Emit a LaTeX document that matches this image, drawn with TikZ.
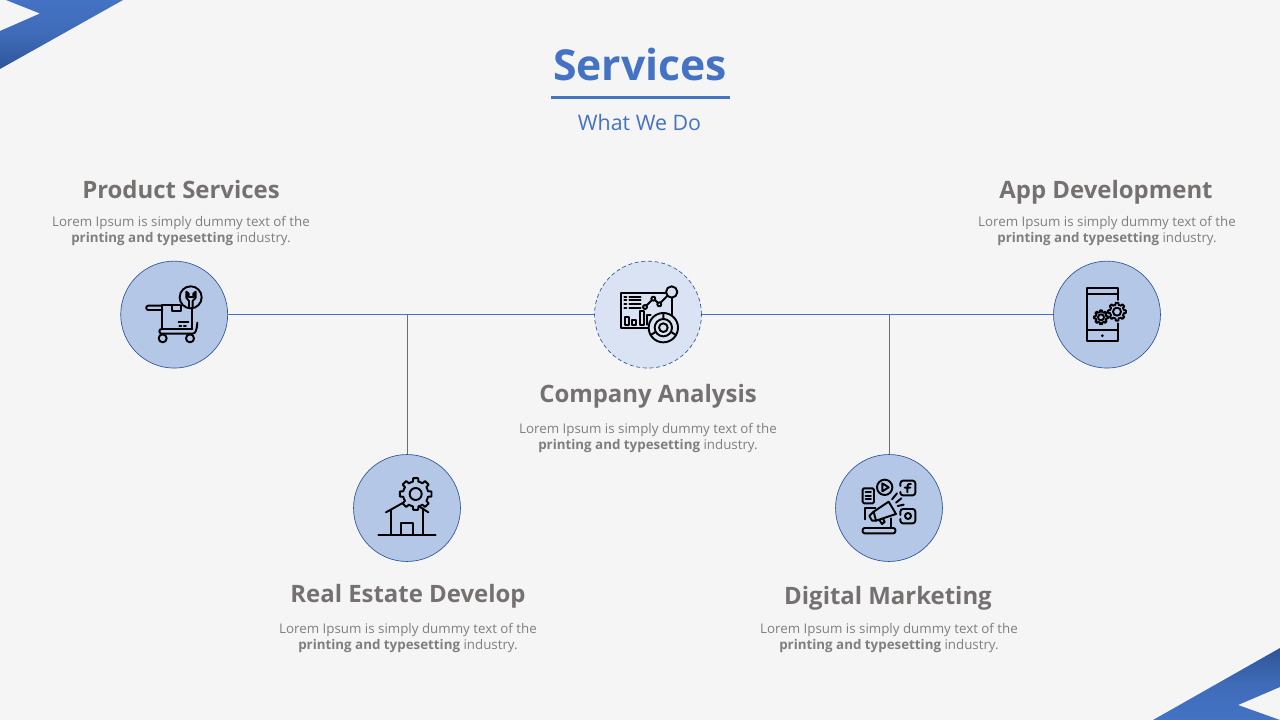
\documentclass[tikz,border=0pt]{standalone}
\usepackage{fontspec}
\setmainfont{Open Sans}
\definecolor{bgc}{HTML}{F5F5F5}
\definecolor{blue1}{HTML}{4472C4}
\definecolor{blue2}{HTML}{2F5597}
\definecolor{fillc}{HTML}{B4C7E7}
\definecolor{fillm}{HTML}{DAE3F3}
\definecolor{headc}{HTML}{767171}
\definecolor{bodyc}{HTML}{7F7F7F}
\tikzset{
  disc/.style={circle,draw=blue2,line width=0.5pt,fill=fillc,minimum size=80.2pt,inner sep=0pt},
  discm/.style={disc,fill=fillm,densely dashed},
  link/.style={draw=blue1,line width=0.75pt},
  heading/.style={font=\fontsize{17.95}{22}\selectfont\bfseries,text=headc,inner sep=0pt,anchor=base},
  body/.style={font=\fontsize{10}{12}\selectfont,text=bodyc,align=center,inner sep=0pt},
  ico/.style={draw=black,line width=1.45pt,line cap=round,line join=round},
}
\newcommand{\lorem}{Lorem Ipsum is simply dummy text of the\\[0pt]\textbf{printing and typesetting} industry.}
% gear: x, y, outer radius, root radius, teeth
\newcommand{\geartooth}[5]{%
  \pgfmathsetmacro{\stp}{360/#5}%
  \draw[ico] ({#1+#4*cos(-0.5*\stp)},{#2+#4*sin(-0.5*\stp)})
  \foreach \k in {1,...,#5}{
    -- ({#1+#4*cos((\k-1)*\stp-0.28*\stp)},{#2+#4*sin((\k-1)*\stp-0.28*\stp)})
    -- ({#1+#3*cos((\k-1)*\stp-0.2*\stp)},{#2+#3*sin((\k-1)*\stp-0.2*\stp)})
    -- ({#1+#3*cos((\k-1)*\stp+0.2*\stp)},{#2+#3*sin((\k-1)*\stp+0.2*\stp)})
    -- ({#1+#4*cos((\k-1)*\stp+0.28*\stp)},{#2+#4*sin((\k-1)*\stp+0.28*\stp)})
    -- ({#1+#4*cos(\k*\stp-0.5*\stp)},{#2+#4*sin(\k*\stp-0.5*\stp)})
  } -- cycle;}
\begin{document}
\begin{tikzpicture}[x=0.75pt,y=-0.75pt]
\useasboundingbox (0,0) rectangle (1280,720);
\fill[bgc] (0,0) rectangle (1280,720);
% corners
\shade[top color=blue1,bottom color=blue2,middle color=blue1!75!blue2] (6,0) -- (123,0) -- (0,69) -- (0,31) -- (40,13.5) -- cycle;
\shade[top color=blue2,bottom color=blue1,middle color=blue1!75!blue2] (1153,720) -- (1280,648) -- (1280,687) -- (1238,705) -- (1280,720) -- cycle;
% title
\node[font=\fontsize{32}{36}\selectfont\bfseries,text=blue1,inner sep=0pt] (title) at (640,65) {Services};
\coordinate (ruleL) at (551,97.5);
\coordinate (ruleR) at (730,97.5);
\draw[blue1,line width=2.2pt] (ruleL) -- (ruleR);
\node[font=\fontsize{16}{20}\selectfont,text=blue1,inner sep=0pt] (subtitle) at (639.5,123) {What We Do};
% discs
\node[disc] (c1) at (174.2,314.6) {};
\node[discm] (c2) at (648,314.6) {};
\node[disc] (c3) at (1107,314.6) {};
\node[disc] (c4) at (407,508) {};
\node[disc] (c5) at (889,508) {};
% connectors
\draw[link] (c1) -- (c2);
\draw[link] (c2) -- (c3);
\draw[link] (c4) -- (c4 |- c1);
\draw[link] (c5) -- (c5 |- c1);
% labels
\node[heading] (h1) at (181,199) {Product Services};
\node[body] (b1) at (181,231) {\lorem};
\node[heading] (h2) at (648,402) {Company Analysis};
\node[body] (b2) at (648,437.5) {\lorem};
\node[heading] (h3) at (1106,199) {App Development};
\node[body] (b3) at (1107,231) {\lorem};
\node[heading] (h4) at (408,602) {Real Estate Develop};
\node[body] (b4) at (408,637.5) {\lorem};
\node[heading] (h5) at (888,604) {Digital Marketing};
\node[body] (b5) at (889,637.5) {\lorem};
% icon: cart
\begin{scope}[shift={(120,255)},scale=1/3]
 \draw[ico] (127,152) -- (85,152) arc (270:90:6.5) -- (127,165);
 \draw[ico] (127,150) -- (127,222);
 \draw[ico] (127,150) -- (180,150);
 \draw[ico] (155,150) -- (155,167) -- (183,167) -- (183,150);
 \draw[ico] (176,200) -- (205,200);
 \draw[ico,dotted] (178,212) -- (205,212);
 \draw[ico] (217,160) -- (217,222);
 \draw[ico] (212,127) circle (33);
 \draw[ico] (199,110) -- (199,128) -- (207,138) -- (207,158) (218,158) -- (218,138) -- (227,128) -- (227,110) -- (220,116) -- (220,126) -- (206,126) -- (206,116) -- (199,110);
 \draw[ico] (232,203) .. controls (230,225) and (228,236) .. (217,236) -- (125,236) arc (90:270:7) -- (217,222);
 \draw[ico] (128,250) circle (12);
 \draw[ico] (210,250) circle (12);
\end{scope}
% icon: analysis
\begin{scope}[shift={(590,255)},scale=1/3]
 \draw[ico] (228,114) -- (93,114) -- (93,220) -- (175,220);
 \draw[ico] (245,128) -- (245,178);
 \draw[ico] (245,111) circle (17);
 \foreach \yy in {125,136,147,158}{
   \draw[ico] (103,\yy) -- (109,\yy);
   \draw[ico] (118,\yy) -- (152,\yy);
 }
 \draw[ico] (169,152) -- (186,135) (195,135) -- (204,144) (212,143) -- (233,122);
 \draw[ico] (165,156) circle (6);
 \draw[ico] (190,131) circle (6);
 \draw[ico] (208,148) circle (6);
 \draw[ico] (105,187) rectangle (116,209);
 \draw[ico] (127,194) rectangle (138,209);
 \draw[ico] (149,168) rectangle (161,209);
 \draw[ico] (171,209) -- (171,181) -- (182,181);
 \draw[ico] (220,218) circle (44);
 \draw[ico] (220,218) circle (26);
 \draw[ico] (220,218) circle (13);
 \draw[ico] (220,174) -- (220,192) (182,240) -- (197,231) (258,240) -- (243,231);
\end{scope}
% icon: phone
\begin{scope}[shift={(1050,255)},scale=1/3]
 \draw[ico] (204,135) -- (204,98) -- (112,98) -- (112,258) -- (204,258) -- (204,205);
 \draw[ico] (112,116) -- (204,116);
 \draw[ico] (112,226) -- (204,226);
 \fill (157,242) circle (4.5);
 \geartooth{201}{170}{27}{21}{8}
 \draw[ico] (201,170) circle (12);
 \geartooth{153}{187}{21}{16}{8}
 \draw[ico] (153,187) circle (9);
\end{scope}
% icon: house
\begin{scope}[shift={(350,450)},scale=1/3]
 \geartooth{197}{132}{48}{38}{8}
 \draw[ico] (197,132) circle (18);
 \draw[ico] (85,255) -- (257,255);
 \draw[ico] (122,255) -- (122,180);
 \draw[ico] (218,255) -- (218,175);
 \draw[ico] (108,187) -- (160,158);
 \draw[ico] (207,169) -- (235,187);
 \draw[ico] (154,255) -- (154,220) -- (188,220) -- (188,255);
\end{scope}
% icon: marketing
\begin{scope}[shift={(832,450)},scale=1/3]
 \draw[ico,rounded corners=1pt] (92,115) rectangle (126,160);
 \draw[ico] (101,126) -- (117,126) (101,137) -- (117,137) (101,148) -- (117,148);
 \draw[ico] (158,112) circle (23);
 \draw[ico] (151,100) -- (170,112) -- (151,124) -- cycle;
 \draw[ico,rounded corners=2pt] (205,126) -- (205,136) -- (250,136) -- (250,92) -- (205,92) -- (205,108);
 \draw[ico] (237,102) .. controls (226,100) and (226,108) .. (226,112) -- (226,127) (218,113) -- (235,113);
 \draw[ico,rounded corners=2pt] (205,195) -- (205,177) -- (250,177) -- (250,220) -- (205,220) -- (205,207);
 \draw[ico] (228,198) circle (9);
 \draw[ico] (98,208) -- (98,175) -- (130,175);
 \draw[ico] (178,205) -- (178,232);
 \draw[ico,rounded corners=1.5pt] (92,234) rectangle (190,250);
 \draw[ico] (125,185) -- (170,155) -- (192,192) -- (132,212) -- cycle;
 \draw[ico] (125,185) -- (112,198) -- (120,212) -- (132,212);
 \draw[ico] (142,210) -- (150,222) -- (158,216) -- (153,206);
 \draw[ico] (180,148) -- (195,130) (192,158) -- (208,145) (197,168) -- (215,164);
\end{scope}
\end{tikzpicture}
\end{document}
